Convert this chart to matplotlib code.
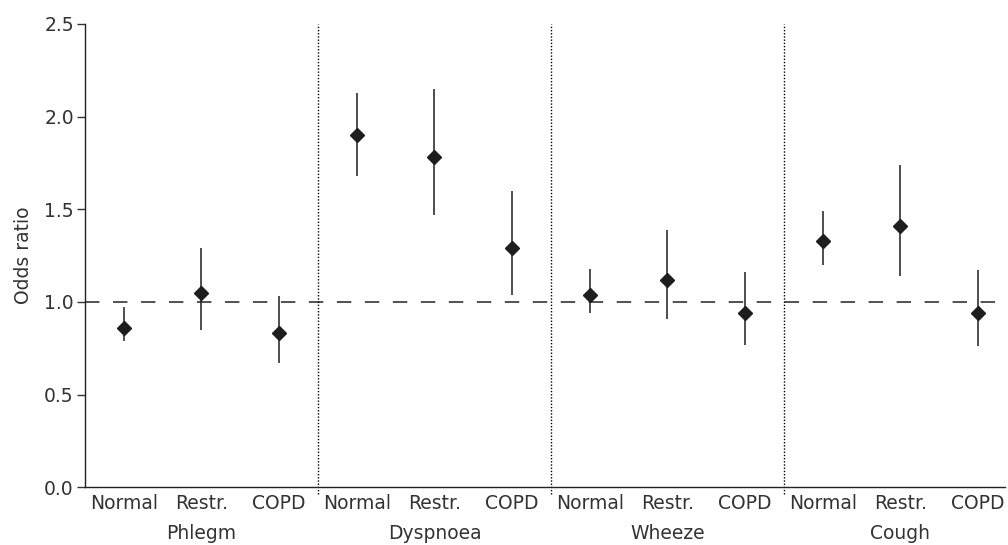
import numpy as np
import matplotlib.pyplot as plt

groups = ["Phlegm", "Dyspnoea", "Wheeze", "Cough"]
levels = ["Normal", "Restr.", "COPD"]

# odds ratio with lower / upper 95% CI, per group (Normal, Restr., COPD)
odds = [0.86, 1.05, 0.83,
        1.90, 1.78, 1.29,
        1.04, 1.12, 0.94,
        1.33, 1.41, 0.94]
lower = [0.79, 0.85, 0.67,
         1.68, 1.47, 1.04,
         0.94, 0.91, 0.77,
         1.20, 1.14, 0.76]
upper = [0.97, 1.29, 1.03,
         2.13, 2.15, 1.60,
         1.18, 1.39, 1.16,
         1.49, 1.74, 1.17]

odds = np.array(odds)
lower = np.array(lower)
upper = np.array(upper)
x = np.arange(len(odds))

txt = "#333333"
fs = 13.5
plt.rcParams['font.family'] = ['DejaVu Sans']

fig = plt.figure(figsize=(10.08, 5.45), dpi=100)
ax = fig.add_axes([0.0843, 0.106, 0.913, 0.850])

ax.axhline(1.0, color="#444444", lw=1.3, dashes=(8, 7.5), zorder=1)
for b in [2.5, 5.5, 8.5]:
    ax.axvline(b, ymin=-0.015, ymax=1, color="black", lw=1.0,
               linestyle=(0, (1, 1.3)), clip_on=False, zorder=1)

ax.errorbar(x, odds, yerr=[odds - lower, upper - odds], fmt="D",
            color="#1e1e1e", ecolor="#1e1e1e", elinewidth=1.1,
            markersize=7, capsize=0, zorder=3)

ax.set_xlim(-0.5, 11.35)
ax.set_ylim(0, 2.5)
ax.set_yticks([0, 0.5, 1.0, 1.5, 2.0, 2.5])
ax.set_yticklabels(["0.0", "0.5", "1.0", "1.5", "2.0", "2.5"])
ax.set_xticks(x)
ax.set_xticklabels(levels * len(groups))
ax.tick_params(axis="x", length=0, pad=5, labelsize=fs, labelcolor=txt)
ax.tick_params(axis="y", length=6, width=1, color="#333333", pad=2,
               labelsize=fs, labelcolor=txt)

for i, g in enumerate(groups):
    ax.text(3 * i + 1, -0.1, g, ha="center", va="center", fontsize=fs,
            color=txt, transform=ax.get_xaxis_transform())

ax.set_ylabel("Odds ratio", fontsize=fs, color=txt, labelpad=8)

for s in ["top", "right"]:
    ax.spines[s].set_visible(False)
for s in ["left", "bottom"]:
    ax.spines[s].set_color("#222222")
    ax.spines[s].set_linewidth(1.0)

fig.savefig("out.png", dpi=100)
